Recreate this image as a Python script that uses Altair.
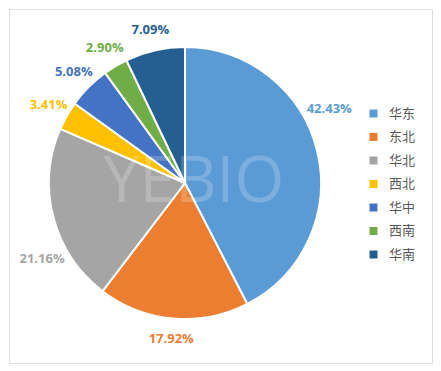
import altair as alt
import pandas as pd

regions = ["华东", "东北", "华北", "西北", "华中", "西南", "华南"]
shares = [42.43, 17.92, 21.16, 3.41, 5.08, 2.90, 7.09]
labels = ["42.43%", "17.92%", "21.16%", "3.41%", "5.08%", "2.90%", "7.09%"]
colors = ["#5B9BD5", "#ED7D31", "#A5A5A5", "#FFC000", "#4472C4", "#70AD47", "#255E91"]
watermark = ["YEBIO"]

df = pd.DataFrame({"region": regions, "share": shares, "label": labels, "order": list(range(len(regions)))})
wm = pd.DataFrame({"t": watermark})

CX, CY = 176, 174

color = alt.Color("region:N", scale=alt.Scale(domain=regions, range=colors),
                  sort=regions,
                  legend=alt.Legend(title=None, orient="none", legendX=358, legendY=98,
                                    symbolType="square", symbolSize=64, symbolStrokeWidth=0,
                                    labelFont="Noto Sans CJK SC", labelFontSize=13,
                                    labelColor="#595959", labelOffset=9, rowPadding=9.5,
                                    padding=0))
text_color = alt.Color("region:N", scale=alt.Scale(domain=regions, range=colors), legend=None)

base = alt.Chart(df).encode(
    theta=alt.Theta("share:Q", stack=True),
    order=alt.Order("order:Q"),
    x=alt.value(CX), y=alt.value(CY),
)

arcs = base.mark_arc(outerRadius=136, stroke="white", strokeWidth=2).encode(color=color)

# Excel "best fit": labels of large slices are rotated back along the edge
text_small = base.mark_text(radius=157, font="Open Sans", fontSize=13, fontWeight="bold").encode(
    text="label:N",
    color=text_color,
    opacity=alt.condition("datum.share > 20", alt.value(0), alt.value(1)),
)
text_big = base.mark_text(radius=162, thetaOffset=-0.235, font="Open Sans", fontSize=13,
                          fontWeight="bold").encode(
    text="label:N",
    color=text_color,
    opacity=alt.condition("datum.share > 20", alt.value(1), alt.value(0)),
)

mark_wm = alt.Chart(wm).mark_text(font="Open Sans", fontSize=64, fontWeight="normal", color="white",
                                  opacity=0.2, baseline="alphabetic", align="center").encode(
    text="t:N", x=alt.value(185), y=alt.value(193))

chart = alt.layer(arcs, text_small, text_big, mark_wm).properties(
    width=423, height=354,
    autosize=alt.AutoSizeParams(type="none"),
    padding={"left": 1, "top": 1, "right": 1, "bottom": 1},
).configure_view(stroke="#D0D0D0", strokeWidth=2.5).configure(background="white")

chart.save("out.html", embed_options={"renderer": "svg", "actions": False})
